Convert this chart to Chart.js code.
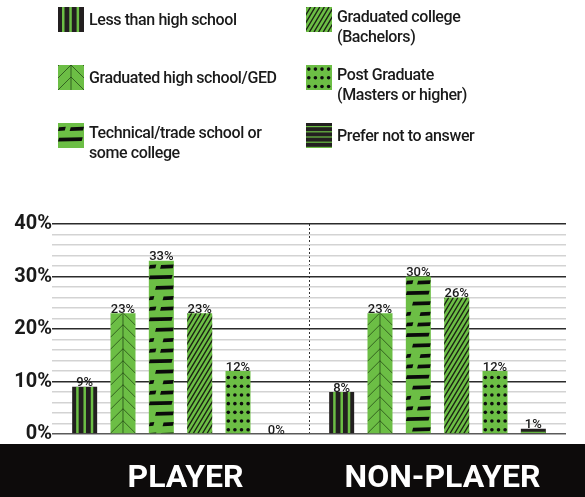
<!DOCTYPE html>
<html>
<head>
<meta charset="utf-8">
<script src="https://cdn.jsdelivr.net/npm/chart.js@4.4.1/dist/chart.umd.min.js"></script>
<style>
  body { margin: 0; background: #fff; font-family: Roboto, sans-serif; }
  #wrap { position: relative; width: 585px; height: 497px; overflow: hidden; }
  #chart { position: absolute; left: 0; top: 0; }
  .lg-item { position: absolute; display: flex; align-items: center; }
  .lg-item.multi { align-items: flex-start; }
  .lg-item canvas { flex: none; display: block; }
  .lg-text { margin-left: 5px; font-size: 16px; font-weight: 500; letter-spacing: -0.4px;
             line-height: 20px; color: #1a1a1a; white-space: pre; }
</style>
</head>
<body>
<div id="wrap">
  <canvas id="chart" width="585" height="497"></canvas>
  <div id="legend"></div>
</div>
<script>
// data
const groups = ['PLAYER', 'NON-PLAYER'];
const seriesLabels = [
  'Less than high school',
  'Graduated high school/GED',
  'Technical/trade school or\nsome college',
  'Graduated college\n(Bachelors)',
  'Post Graduate\n(Masters or higher)',
  'Prefer not to answer'
];
const playerValues = [9, 23, 33, 23, 12, 0];
const nonPlayerValues = [8, 23, 30, 26, 12, 1];
const yMin = 0, yMax = 40, yStep = 2;

const GREEN = '#6cbe45';
const BLACK = '#231f20';
const baseColors = [BLACK, GREEN, GREEN, GREEN, GREEN, BLACK];

// brush dash rows for the technical/trade texture (fractions of bar width)
const dashRows = [
  [[0, 0.3], [0.45, 1]],
  [[0, 0.95]],
  [[0.25, 1]],
  [[0, 0.22], [0.55, 1]]
];

function drawTexture(ctx, kind, l, t, r, b) {
  const w = r - l, h = b - t;
  if (h <= 0.5) return;
  ctx.save();
  ctx.beginPath();
  ctx.rect(l, t, w, h);
  ctx.clip();
  if (kind === 0) {
    // green stripes on black
    ctx.fillStyle = GREEN;
    for (let x = l + 4; x < r - 2; x += 7.3) ctx.fillRect(x, t, 2.5, h);
  } else if (kind === 1) {
    // center line + chevrons
    ctx.strokeStyle = 'rgba(25,55,15,0.85)';
    ctx.lineWidth = 0.8;
    const cx = (l + r) / 2;
    ctx.beginPath();
    ctx.moveTo(cx, t); ctx.lineTo(cx, b);
    for (let y = b; y > t - w; y -= 12) {
      ctx.moveTo(l, y); ctx.lineTo(cx, y - w / 2); ctx.lineTo(r, y);
    }
    ctx.stroke();
  } else if (kind === 2) {
    // black brush dashes
    ctx.fillStyle = '#0a0a0a';
    let k = 0;
    for (let y = t + 6; y < b + 2; y += 10.5, k++) {
      dashRows[k % dashRows.length].forEach(([a, c]) => {
        const x1 = l + a * w, x2 = l + c * w;
        ctx.beginPath();
        ctx.moveTo(x1 + 1, y - 1.8);
        ctx.lineTo(x2, y - 2.2);
        ctx.lineTo(x2 - 1, y + 1.6);
        ctx.lineTo(x1, y + 1.9);
        ctx.closePath();
        ctx.fill();
      });
    }
  } else if (kind === 3) {
    // diagonal stripes
    ctx.strokeStyle = '#1b2414';
    ctx.lineWidth = 1.4;
    ctx.beginPath();
    for (let x = l - h * 0.6; x < r + 2; x += 4.6) {
      ctx.moveTo(x, b); ctx.lineTo(x + h * 0.6, t);
    }
    ctx.stroke();
  } else if (kind === 4) {
    // dots
    ctx.fillStyle = '#0d0d0d';
    for (let y = b - 3.5; y > t + 1.5; y -= 8.7) {
      for (let x = l + 2.8; x < r - 1; x += 6.6) {
        ctx.beginPath(); ctx.arc(x, y, 1.8, 0, Math.PI * 2); ctx.fill();
      }
    }
  } else if (kind === 5) {
    // thin green lines on black
    ctx.fillStyle = GREEN;
    for (let y = t + 3; y < b; y += 5.2) ctx.fillRect(l, y, w, 1.2);
  }
  ctx.restore();
}

const texturePlugin = {
  id: 'textures',
  afterDatasetDraw(chart, args) {
    const ctx = chart.ctx;
    args.meta.data.forEach(el => {
      const l = el.x - el.width / 2, r = el.x + el.width / 2;
      drawTexture(ctx, args.index, l, Math.min(el.y, el.base), r, Math.max(el.y, el.base));
    });
  }
};

const valueLabels = {
  id: 'valueLabels',
  afterDatasetsDraw(chart) {
    const ctx = chart.ctx;
    ctx.save();
    ctx.font = '500 13px Roboto';
    ctx.fillStyle = '#1a1a1a';
    ctx.textAlign = 'center';
    ctx.textBaseline = 'alphabetic';
    chart.data.datasets.forEach((ds, i) => {
      chart.getDatasetMeta(i).data.forEach((el, j) => {
        ctx.fillText(ds.data[j] + '%', el.x, el.y - 0.5);
      });
    });
    ctx.restore();
  }
};

const band = {
  id: 'band',
  beforeDraw(chart) {
    const ctx = chart.ctx;
    ctx.save();
    ctx.fillStyle = '#0d0b0b';
    ctx.fillRect(0, chart.chartArea.bottom + 10, chart.width, chart.height);
    ctx.restore();
  }
};

Chart.defaults.font.family = 'Roboto';

const chart = new Chart(document.getElementById('chart'), {
  type: 'bar',
  data: {
    labels: groups,
    datasets: seriesLabels.map((label, i) => ({
      label: label,
      data: [playerValues[i], nonPlayerValues[i]],
      backgroundColor: baseColors[i],
      borderWidth: 0,
      categoryPercentage: 0.895,
      barPercentage: 0.652
    }))
  },
  options: {
    responsive: false,
    animation: false,
    layout: { padding: { top: 224, left: 12, right: 19, bottom: 0 } },
    plugins: { legend: { display: false }, tooltip: { enabled: false } },
    scales: {
      x: {
        afterFit: s => { s.height = 63; },
        grid: {
          drawTicks: false,
          lineWidth: 1,
          color: c => c.index === 1 ? '#333' : 'rgba(0,0,0,0)'
        },
        border: { display: false, dash: [2, 2] },
        ticks: {
          color: '#ffffff',
          padding: 26,
          labelOffset: 5,
          font: { size: 32, weight: 'bold' }
        }
      },
      y: {
        min: yMin,
        max: yMax,
        afterFit: s => { s.width = 40; },
        grid: {
          drawTicks: false,
          lineWidth: 1.5,
          color: c => {
            const v = c.tick ? c.tick.value : 1;
            if (v % 10 !== 0) return '#d3d3d3';
            return v === 0 ? '#5a5a5a' : '#2b2b2b';
          }
        },
        border: { display: false },
        ticks: {
          stepSize: yStep,
          autoSkip: false,
          padding: 0,
          color: '#1a1a1a',
          font: { size: 20, weight: 'bold' },
          callback: v => v % 10 === 0 ? v + '%' : ''
        }
      }
    }
  },
  plugins: [band, texturePlugin, valueLabels]
});

// html legend built from the datasets
const legend = document.getElementById('legend');
chart.data.datasets.forEach((ds, i) => {
  const item = document.createElement('div');
  item.className = 'lg-item' + (ds.label.includes('\n') ? ' multi' : '');
  item.style.left = (58 + Math.floor(i / 3) * 248) + 'px';
  item.style.top = (7 + (i % 3) * 58) + 'px';
  const sw = document.createElement('canvas');
  sw.width = 26; sw.height = 25;
  const sctx = sw.getContext('2d');
  sctx.fillStyle = ds.backgroundColor;
  sctx.fillRect(0, 0, 26, 25);
  drawTexture(sctx, i, 0, 0, 26, 25);
  const txt = document.createElement('div');
  txt.className = 'lg-text';
  txt.textContent = ds.label;
  item.appendChild(sw);
  item.appendChild(txt);
  legend.appendChild(item);
});
</script>
</body>
</html>
